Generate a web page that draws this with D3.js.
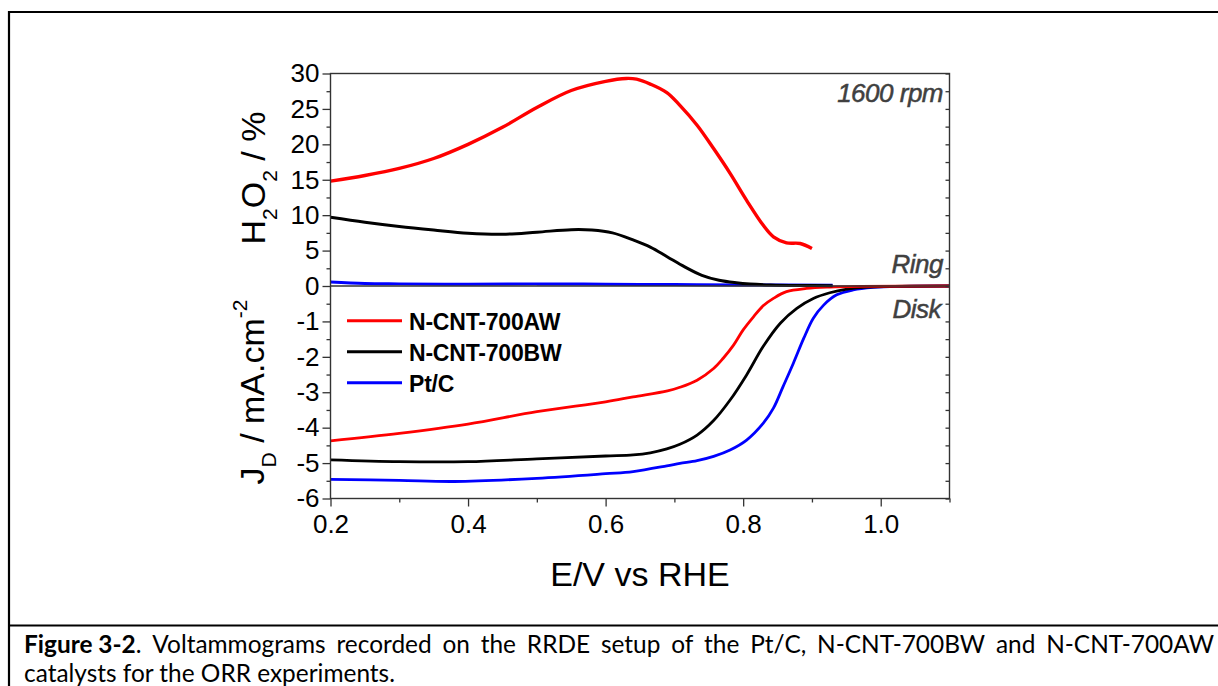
<!DOCTYPE html>
<html>
<head>
<meta charset="utf-8">
<script src="https://cdn.jsdelivr.net/npm/d3@7"></script>
<style>
html,body{margin:0;padding:0;background:#fff;}
svg{display:block;}
</style>
</head>
<body>
<svg id="chart" width="1218" height="686"></svg>
<script>
// ---------- DATA ----------
const seriesNames = ["N-CNT-700AW", "N-CNT-700BW", "Pt/C"];
const seriesColors = ["#ff0000", "#000000", "#0000ff"];

// Ring: H2O2 / %
const ringAW_E = [0.20,0.25,0.30,0.35,0.40,0.45,0.50,0.55,0.60,0.63,0.645,0.665,0.689,0.708,0.733,0.757,0.781,0.805,0.829,0.844,0.863,0.883,0.90];
const ringAW_V = [14.8,15.6,16.6,18.0,20.0,22.4,25.2,27.6,28.9,29.3,29.2,28.5,27.3,25.5,22.7,19.4,15.9,12.1,8.6,6.95,6.1,6.0,5.3];
const ringBW_E = [0.20,0.25,0.30,0.35,0.40,0.45,0.50,0.55,0.58,0.61,0.64,0.665,0.69,0.715,0.74,0.765,0.79,0.81,0.84,0.88,0.93];
const ringBW_V = [9.7,9.0,8.4,7.9,7.45,7.3,7.6,7.95,7.9,7.5,6.5,5.5,4.1,2.7,1.5,0.8,0.45,0.28,0.15,0.08,0.05];
const ringPt_E = [0.20,0.25,0.30,0.40,0.50,0.60,0.70,0.80,0.93];
const ringPt_V = [0.55,0.35,0.30,0.25,0.30,0.25,0.20,0.15,0.10];

// Disk: J_D / mA cm^-2
const diskAW_E = [0.20,0.30,0.40,0.50,0.60,0.64,0.69,0.708,0.733,0.757,0.771,0.786,0.80,0.815,0.829,0.844,0.863,0.892,0.926,0.97,1.10];
const diskAW_V = [-4.37,-4.16,-3.90,-3.55,-3.27,-3.13,-2.96,-2.86,-2.66,-2.33,-2.04,-1.67,-1.24,-0.87,-0.56,-0.35,-0.16,-0.07,-0.03,-0.01,0];
const diskBW_E = [0.20,0.30,0.40,0.50,0.60,0.64,0.665,0.689,0.708,0.733,0.757,0.781,0.805,0.829,0.854,0.878,0.902,0.926,0.951,0.975,1.02,1.10];
const diskBW_V = [-4.91,-4.96,-4.96,-4.88,-4.80,-4.77,-4.71,-4.60,-4.47,-4.21,-3.80,-3.22,-2.51,-1.71,-1.05,-0.63,-0.35,-0.19,-0.09,-0.04,-0.01,0];
const diskPt_E = [0.20,0.30,0.38,0.50,0.60,0.64,0.689,0.708,0.733,0.757,0.781,0.805,0.829,0.844,0.858,0.873,0.888,0.902,0.917,0.936,0.960,0.989,1.03,1.10];
const diskPt_V = [-5.46,-5.49,-5.52,-5.43,-5.30,-5.24,-5.08,-5.01,-4.93,-4.81,-4.63,-4.35,-3.88,-3.45,-2.84,-2.18,-1.48,-0.91,-0.54,-0.25,-0.11,-0.04,-0.01,0];

// Ticks
const xMajorTicks = [0.2,0.4,0.6,0.8,1.0];
const xMinorTicks = [0.3,0.5,0.7,0.9,1.1];
const ringMajorTicks = [0,5,10,15,20,25,30];
const ringMinorTicks = [2.5,7.5,12.5,17.5,22.5,27.5];
const diskMajorTicks = [-6,-5,-4,-3,-2,-1];
const diskMinorTicks = [-5.5,-4.5,-3.5,-2.5,-1.5,-0.5];

const captionBoldText = "Figure 3-2";
const captionLine1Words = ["Voltammograms","recorded","on","the","RRDE","setup","of","the","Pt/C,","N-CNT-700BW","and","N-CNT-700AW"];
const captionLine2 = "catalysts for the ORR experiments.";

// ---------- LAYOUT ----------
const svg = d3.select("#chart");
const L = 330.5, R = 949.5, T = 73.5, Z = 286, B = 498.5;
const axisColor = "#333";
const font = "'Liberation Sans', Arial, sans-serif";

const x = d3.scaleLinear().domain([0.2, 1.1]).range([L, R]);
const yRing = d3.scaleLinear().domain([0, 30]).range([Z, T]);
const yDisk = d3.scaleLinear().domain([-6, 0]).range([B, Z]);

// outer frame
svg.append("path").attr("d", "M9,700 V12 H1230").attr("fill","none").attr("stroke","#000").attr("stroke-width",2.2);
svg.append("line").attr("x1",9).attr("x2",1230).attr("y1",625.5).attr("y2",625.5).attr("stroke","#000").attr("stroke-width",2.2);

// curves
const ringSets = [[ringAW_E, ringAW_V],[ringBW_E, ringBW_V],[ringPt_E, ringPt_V]];
const diskSets = [[diskAW_E, diskAW_V],[diskBW_E, diskBW_V],[diskPt_E, diskPt_V]];
const curve = d3.curveCatmullRom.alpha(0.5);
const lineRing = d3.line().x(d => x(d[0])).y(d => yRing(d[1])).curve(curve);
const lineDisk = d3.line().x(d => x(d[0])).y(d => yDisk(d[1])).curve(curve);

const gCurves = svg.append("g");
[2,1,0].forEach(i => {
  const [e, v] = diskSets[i];
  gCurves.append("path").datum(e.map((d,k)=>[d, v[k]]))
    .attr("d", lineDisk).attr("fill","none").attr("stroke", seriesColors[i]).attr("stroke-width", 2.8);
});
[2,1,0].forEach(i => {
  const [e, v] = ringSets[i];
  gCurves.append("path").datum(e.map((d,k)=>[d, v[k]]))
    .attr("d", lineRing).attr("fill","none").attr("stroke", seriesColors[i]).attr("stroke-width", i===0 ? 3.4 : 3);
});

// axes
const gAx = svg.append("g").attr("font-family", font);
function styleAxis(g){
  g.select(".domain").remove();
  g.selectAll("line").attr("stroke", axisColor).attr("stroke-width", 1.3);
  g.selectAll("text").attr("fill","#000").attr("font-size", 26).attr("font-family", font);
}
function minor(g){ g.select(".domain").remove(); g.selectAll("line").attr("stroke",axisColor).attr("stroke-width",1.3); }
// left ring
const axRing = gAx.append("g").attr("transform", `translate(${L},0)`)
  .call(d3.axisLeft(yRing).tickValues(ringMajorTicks).tickSize(8).tickPadding(3).tickFormat(d3.format("d")));
styleAxis(axRing);
gAx.append("g").attr("transform", `translate(${L},0)`)
  .call(d3.axisLeft(yRing).tickValues(ringMinorTicks).tickSize(4).tickFormat("")).call(minor);
// left disk
const axDisk = gAx.append("g").attr("transform", `translate(${L},0)`)
  .call(d3.axisLeft(yDisk).tickValues(diskMajorTicks).tickSize(8).tickPadding(3).tickFormat(d3.format("d")));
styleAxis(axDisk);
axDisk.selectAll("text").text(d => d < 0 ? "-" + Math.abs(d) : d);
gAx.append("g").attr("transform", `translate(${L},0)`)
  .call(d3.axisLeft(yDisk).tickValues(diskMinorTicks).tickSize(4).tickFormat("")).call(minor);
// right mirror ticks (inward)
gAx.append("g").attr("transform", `translate(${R},0)`)
  .call(d3.axisRight(yRing).tickValues(ringMajorTicks.concat(ringMinorTicks)).tickSize(-4).tickFormat("")).call(minor);
gAx.append("g").attr("transform", `translate(${R},0)`)
  .call(d3.axisRight(yDisk).tickValues(diskMajorTicks.concat(diskMinorTicks)).tickSize(-4).tickFormat("")).call(minor);
// bottom
const axX = gAx.append("g").attr("transform", `translate(0,${B})`)
  .call(d3.axisBottom(x).tickValues(xMajorTicks).tickSize(8).tickPadding(8).tickFormat(d3.format(".1f")));
styleAxis(axX);
gAx.append("g").attr("transform", `translate(0,${B})`)
  .call(d3.axisBottom(x).tickValues(xMinorTicks).tickSize(4).tickFormat("")).call(minor);

// frame lines
gAx.append("rect").attr("x",L).attr("y",T).attr("width",R-L).attr("height",B-T)
  .attr("fill","none").attr("stroke",axisColor).attr("stroke-width",1.4);
gAx.append("line").attr("x1",L).attr("x2",R).attr("y1",Z).attr("y2",Z)
  .attr("stroke",axisColor).attr("stroke-width",1.4);

// axis titles
const t1 = svg.append("text").attr("transform","translate(265,178) rotate(-90)")
  .attr("text-anchor","middle").attr("font-family",font).attr("font-size",34).attr("fill","#000");
t1.append("tspan").text("H");
t1.append("tspan").attr("font-size",21).attr("dy",12).text("2");
t1.append("tspan").attr("dy",-12).text("O");
t1.append("tspan").attr("font-size",21).attr("dy",12).text("2");
t1.append("tspan").attr("dy",-12).text(" / %");

const t2 = svg.append("text").attr("transform","translate(264,392) rotate(-90)")
  .attr("text-anchor","middle").attr("font-family",font).attr("font-size",34).attr("fill","#000");
t2.append("tspan").text("J");
t2.append("tspan").attr("font-size",21).attr("dy",12).text("D");
t2.append("tspan").attr("dy",-12).text(" / mA.cm");
t2.append("tspan").attr("font-size",21).attr("dy",-17).text("-2");

svg.append("text").attr("x",(L+R)/2).attr("y",586).attr("text-anchor","middle")
  .attr("font-family",font).attr("font-size",34).attr("fill","#000").text("E/V vs RHE");

// annotations
const annot = [["1600 rpm",943,102],["Ring",943,273],["Disk",941,318]];
annot.forEach(a => svg.append("text").attr("x",a[1]).attr("y",a[2]).attr("text-anchor","end")
  .attr("font-family",font).attr("font-style","italic").attr("font-size",26).attr("letter-spacing",-0.5)
  .attr("fill","#404040").attr("stroke","#404040").attr("stroke-width",0.5).text(a[0]));

// legend
const leg = svg.append("g");
seriesNames.forEach((n,i) => {
  const yy = 320.7 + i*31;
  leg.append("line").attr("x1",347).attr("x2",402).attr("y1",yy).attr("y2",yy)
    .attr("stroke",seriesColors[i]).attr("stroke-width",3);
  leg.append("text").attr("x",409).attr("y",yy+9).attr("font-family",font).attr("font-weight","bold")
    .attr("font-size",23).attr("letter-spacing",-0.2).attr("fill","#000").text(n);
});

// caption
const capFont = "Lato, 'Noto Sans', sans-serif";
const capG = svg.append("g").attr("font-family",capFont).attr("fill","#000");
const line2 = capG.append("text").attr("x",24).attr("y",681.5).text(captionLine2);
let fs = 22;
line2.attr("font-size",fs);
const w2 = line2.node().getComputedTextLength();
fs = fs * 371 / w2;
line2.attr("font-size",fs);
// line 1 justified
const words = [];
const w0 = capG.append("text").attr("y",652.5).attr("font-size",fs);
w0.append("tspan").attr("font-weight","bold").text(captionBoldText);
w0.append("tspan").text(".");
words.push(w0);
captionLine1Words.forEach(w => words.push(capG.append("text").attr("y",652.5).attr("font-size",fs).text(w)));
const widths = words.map(t => t.node().getComputedTextLength());
const total = d3.sum(widths);
const gap = (1214 - 24 - total) / (words.length - 1);
let cx = 24;
words.forEach((t,i) => { t.attr("x", cx); cx += widths[i] + gap; });
</script>
</body>
</html>
